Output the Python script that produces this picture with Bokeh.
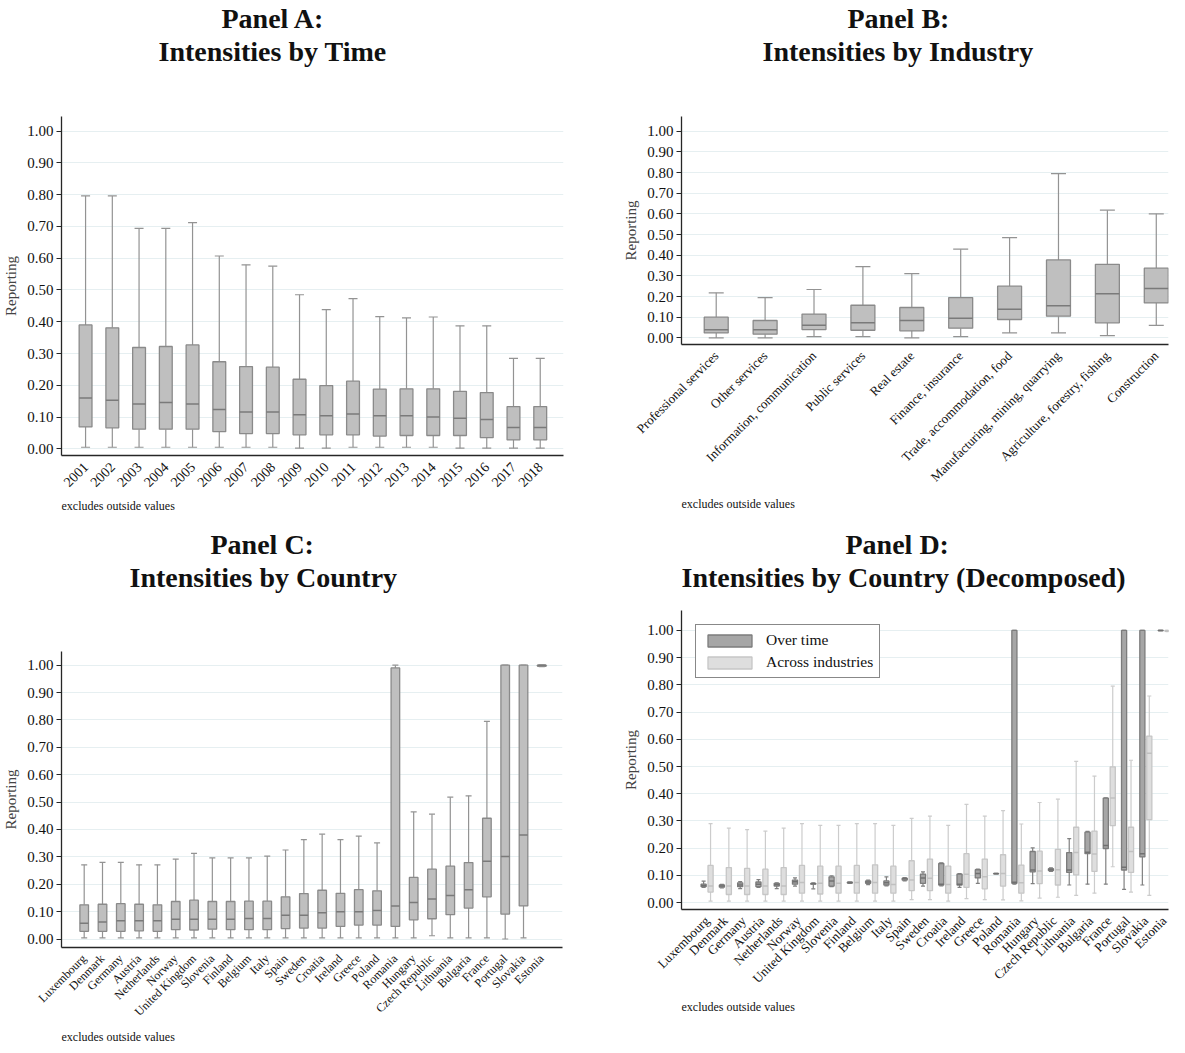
import math
import numpy as np
from bokeh.plotting import figure
from bokeh.models import (Range1d, FixedTicker, NumeralTickFormatter, Whisker, TeeHead,
                          ColumnDataSource, Title, Legend, LegendItem)
from bokeh.layouts import column, row
from bokeh.embed import file_html
from bokeh.resources import INLINE

FONT = "Liberation Serif"

# ---------------- Data ----------------
y_ticks = [0.0, 0.1, 0.2, 0.3, 0.4, 0.5, 0.6, 0.7, 0.8, 0.9, 1.0]

# Panel A: by time
years = ["2001", "2002", "2003", "2004", "2005", "2006", "2007", "2008", "2009",
         "2010", "2011", "2012", "2013", "2014", "2015", "2016", "2017", "2018"]
time_hi = [0.796, 0.796, 0.694, 0.694, 0.712, 0.607, 0.579, 0.575, 0.485,
           0.438, 0.473, 0.416, 0.412, 0.415, 0.387, 0.387, 0.285, 0.285]
time_q3 = [0.390, 0.381, 0.319, 0.322, 0.327, 0.274, 0.259, 0.257, 0.219,
           0.199, 0.213, 0.188, 0.189, 0.189, 0.181, 0.177, 0.133, 0.133]
time_med = [0.160, 0.153, 0.141, 0.146, 0.141, 0.124, 0.116, 0.116, 0.107,
            0.104, 0.110, 0.104, 0.104, 0.100, 0.096, 0.092, 0.067, 0.067]
time_q1 = [0.069, 0.066, 0.062, 0.062, 0.062, 0.054, 0.048, 0.048, 0.044,
           0.044, 0.044, 0.040, 0.042, 0.042, 0.042, 0.035, 0.028, 0.028]
time_lo = [0.005, 0.005, 0.005, 0.005, 0.005, 0.005, 0.005, 0.005, 0.002,
           0.002, 0.005, 0.005, 0.005, 0.005, 0.002, 0.002, 0.002, 0.002]

# Panel B: by industry
industries = ["Professional services", "Other services", "Information, communication",
              "Public services", "Real estate", "Finance, insurance",
              "Trade, accommodation, food", "Manufacturing, mining, quarrying",
              "Agriculture, forestry, fishing", "Construction"]
ind_hi = [0.218, 0.195, 0.234, 0.345, 0.311, 0.429, 0.485, 0.795, 0.618, 0.600]
ind_q3 = [0.100, 0.084, 0.115, 0.158, 0.147, 0.195, 0.250, 0.377, 0.356, 0.337]
ind_med = [0.039, 0.039, 0.061, 0.073, 0.084, 0.095, 0.139, 0.156, 0.213, 0.239]
ind_q1 = [0.024, 0.018, 0.040, 0.037, 0.034, 0.047, 0.089, 0.105, 0.073, 0.169]
ind_lo = [0.000, 0.000, 0.006, 0.006, 0.000, 0.006, 0.024, 0.024, 0.011, 0.061]

# Panel C: by country
countries = ["Luxembourg", "Denmark", "Germany", "Austria", "Netherlands", "Norway",
             "United Kingdom", "Slovenia", "Finland", "Belgium", "Italy", "Spain",
             "Sweden", "Croatia", "Ireland", "Greece", "Poland", "Romania", "Hungary",
             "Czech Republic", "Lithuania", "Bulgaria", "France", "Portugal",
             "Slovakia", "Estonia"]
cty_hi = [0.271, 0.280, 0.280, 0.271, 0.271, 0.292, 0.313, 0.296, 0.296, 0.296, 0.303,
          0.325, 0.363, 0.383, 0.363, 0.376, 0.351, 1.000, 0.464, 0.456, 0.518, 0.523,
          0.795, 1.000, 1.000, 1.000]
cty_q3 = [0.125, 0.127, 0.129, 0.127, 0.125, 0.137, 0.142, 0.137, 0.137, 0.138, 0.138,
          0.154, 0.166, 0.178, 0.167, 0.180, 0.176, 0.990, 0.225, 0.255, 0.266, 0.279,
          0.441, 1.000, 1.000, 1.000]
cty_med = [0.058, 0.062, 0.067, 0.067, 0.067, 0.072, 0.072, 0.072, 0.072, 0.075, 0.075,
           0.087, 0.087, 0.096, 0.100, 0.100, 0.104, 0.121, 0.133, 0.146, 0.159, 0.180,
           0.284, 0.301, 0.380, 1.000]
cty_q1 = [0.028, 0.028, 0.028, 0.030, 0.028, 0.034, 0.033, 0.036, 0.034, 0.034, 0.034,
          0.038, 0.040, 0.040, 0.046, 0.051, 0.051, 0.046, 0.070, 0.074, 0.089, 0.113,
          0.154, 0.091, 0.121, 0.996]
cty_lo = [0.004, 0.004, 0.004, 0.004, 0.004, 0.004, 0.004, 0.004, 0.004, 0.004, 0.004,
          0.004, 0.004, 0.004, 0.004, 0.004, 0.004, 0.004, 0.004, 0.012, 0.004, 0.004,
          0.004, 0.000, 0.004, 0.995]

# Panel D: over time (dark)
ot_hi = [0.079, 0.067, 0.077, 0.085, 0.073, 0.091, 0.073, 0.099, 0.076, 0.083, 0.095,
         0.092, 0.113, 0.146, 0.107, 0.123, 0.108, 1.000, 0.201, 0.128, 0.235, 0.262,
         0.385, 1.000, 1.000, 1.000]
ot_q3 = [0.068, 0.065, 0.073, 0.076, 0.071, 0.083, 0.071, 0.095, 0.075, 0.080, 0.080,
         0.090, 0.105, 0.144, 0.105, 0.121, 0.107, 1.000, 0.188, 0.125, 0.184, 0.259,
         0.384, 1.000, 1.000, 1.000]
ot_med = [0.063, 0.061, 0.065, 0.068, 0.066, 0.077, 0.070, 0.080, 0.074, 0.076, 0.073,
          0.088, 0.091, 0.068, 0.068, 0.107, 0.107, 0.075, 0.120, 0.121, 0.120, 0.185,
          0.210, 0.130, 0.180, 1.000]
ot_q1 = [0.059, 0.057, 0.059, 0.059, 0.061, 0.068, 0.068, 0.061, 0.072, 0.071, 0.065,
         0.083, 0.071, 0.065, 0.065, 0.091, 0.106, 0.071, 0.113, 0.118, 0.111, 0.180,
         0.199, 0.120, 0.168, 0.999]
ot_lo = [0.056, 0.054, 0.052, 0.056, 0.052, 0.061, 0.051, 0.059, 0.071, 0.066, 0.062,
         0.080, 0.061, 0.062, 0.056, 0.071, 0.106, 0.068, 0.070, 0.115, 0.065, 0.068,
         0.068, 0.049, 0.065, 0.999]

# Panel D: across industries (light)
ai_hi = [0.290, 0.274, 0.268, 0.263, 0.274, 0.290, 0.284, 0.284, 0.290, 0.290, 0.284,
         0.310, 0.318, 0.284, 0.361, 0.318, 0.338, 0.289, 0.368, 0.380, 0.519, 0.465,
         0.795, 0.523, 0.759, 1.000]
ai_q3 = [0.137, 0.129, 0.126, 0.123, 0.129, 0.137, 0.134, 0.134, 0.137, 0.139, 0.134,
         0.154, 0.160, 0.134, 0.180, 0.160, 0.176, 0.138, 0.189, 0.196, 0.277, 0.263,
         0.499, 0.277, 0.612, 1.000]
ai_med = [0.061, 0.061, 0.061, 0.061, 0.061, 0.074, 0.071, 0.071, 0.074, 0.074, 0.067,
          0.083, 0.090, 0.067, 0.104, 0.095, 0.107, 0.073, 0.116, 0.121, 0.184, 0.179,
          0.384, 0.188, 0.549, 0.998]
ai_q1 = [0.039, 0.030, 0.030, 0.030, 0.030, 0.035, 0.032, 0.035, 0.035, 0.035, 0.035,
         0.044, 0.044, 0.035, 0.056, 0.051, 0.061, 0.035, 0.070, 0.065, 0.102, 0.115,
         0.283, 0.111, 0.305, 0.996]
ai_lo = [0.006, 0.006, 0.006, 0.006, 0.006, 0.006, 0.006, 0.006, 0.006, 0.006, 0.006,
         0.011, 0.011, 0.006, 0.015, 0.011, 0.010, 0.007, 0.017, 0.020, 0.027, 0.035,
         0.132, 0.039, 0.027, 0.995]

NOTE = "excludes outside values"

# ---------------- Helpers ----------------
GRID = "#e6eff1"
AXIS = "#262626"
TITLE_SIZE = "28px"


def make_fig(line1, line2, cats, w, h, borders, xr, yr, off1, off2, spacer, xfont,
             note_standoff):
    left, right, bottom = borders
    p = figure(width=w, height=h, output_backend="svg", toolbar_location=None,
               x_range=Range1d(*xr), y_range=Range1d(*yr),
               min_border_left=left, min_border_right=right,
               min_border_top=0, min_border_bottom=bottom)
    p.outline_line_color = None
    p.background_fill_color = "white"
    p.border_fill_color = "white"
    xpos = list(range(1, len(cats) + 1))
    p.xaxis.ticker = FixedTicker(ticks=xpos)
    p.xaxis.major_label_overrides = {i: c for i, c in zip(xpos, cats)}
    p.xaxis.major_label_orientation = math.pi / 4
    p.xaxis.major_label_text_font = FONT
    p.xaxis.major_label_text_font_size = xfont
    p.xaxis.major_label_text_color = "#111111"
    p.xaxis.major_tick_line_color = None
    p.xaxis.minor_tick_line_color = None
    p.xaxis.axis_line_color = AXIS
    p.xaxis.axis_line_width = 1.3
    p.xaxis.major_label_standoff = 3

    p.yaxis.ticker = FixedTicker(ticks=y_ticks)
    p.yaxis.formatter = NumeralTickFormatter(format="0.00")
    p.yaxis.major_label_text_font = FONT
    p.yaxis.major_label_text_font_size = "15px"
    p.yaxis.major_label_text_color = "#111111"
    p.yaxis.major_tick_line_color = AXIS
    p.yaxis.major_tick_out = 5
    p.yaxis.major_tick_in = 0
    p.yaxis.minor_tick_line_color = None
    p.yaxis.axis_line_color = AXIS
    p.yaxis.axis_line_width = 1.3
    p.yaxis.axis_label = "Reporting"
    p.yaxis.axis_label_text_font = FONT
    p.yaxis.axis_label_text_font_size = "15px"
    p.yaxis.axis_label_text_font_style = "normal"
    p.yaxis.axis_label_standoff = 5
    p.yaxis.major_label_standoff = 3

    p.xgrid.grid_line_color = None
    p.ygrid.ticker = FixedTicker(ticks=y_ticks)
    p.ygrid.grid_line_color = GRID
    p.ygrid.grid_line_width = 1.2

    # spacer between titles and frame (innermost), then the two title lines
    p.add_layout(Title(text=" ", text_font_size="1px", standoff=spacer), "above")
    p.add_layout(Title(text=line2, align="left", text_font=FONT, text_font_size=TITLE_SIZE,
                       text_font_style="bold", offset=off2, standoff=0,
                       text_color="#111111"), "above")
    p.add_layout(Title(text=line1, align="left", text_font=FONT, text_font_size=TITLE_SIZE,
                       text_font_style="bold", offset=off1, standoff=0,
                       text_color="#111111"), "above")
    p.add_layout(Title(text=NOTE, align="left", text_font=FONT, text_font_size="12px",
                       text_font_style="normal", standoff=note_standoff,
                       text_color="#111111"), "below")
    return p, xpos


def add_boxes(p, x, hi, q3, med, q1, lo, bw, fill, line, whisk, medc, cap):
    x = np.asarray(x, dtype=float)
    src = ColumnDataSource(dict(x=x, hi=hi, q3=q3, med=med, q1=q1, lo=lo,
                                x0=x - bw / 2, x1=x + bw / 2))
    p.add_layout(Whisker(source=src, base="x", upper="hi", lower="q3", dimension="height",
                         line_color=whisk, line_width=1.2,
                         upper_head=TeeHead(size=cap, line_color=whisk, line_width=1.2),
                         lower_head=TeeHead(size=0, line_alpha=0)))
    p.add_layout(Whisker(source=src, base="x", upper="q1", lower="lo", dimension="height",
                         line_color=whisk, line_width=1.2,
                         lower_head=TeeHead(size=cap, line_color=whisk, line_width=1.2),
                         upper_head=TeeHead(size=0, line_alpha=0)))
    r = p.vbar(x="x", width=bw, top="q3", bottom="q1", source=src, fill_color=fill,
               line_color=line, line_width=1.3)
    p.segment(x0="x0", y0="med", x1="x1", y1="med", source=src, line_color=medc,
              line_width=1.5)
    return r


FILL = "#bfbfbf"
LINE = "#8a8a8a"
WHISK = "#939393"
MED = "#7a7a7a"
H1 = 526
H2 = 518

# Panel A
pa, xa = make_fig("Panel A:", "Intensities by Time", years, 592, H1, (60, 29, 71),
                  (0.10, 18.87), (-0.021, 1.046), 160, 97, 47, "14px", 4)
add_boxes(pa, xa, time_hi, time_q3, time_med, time_q1, time_lo, 0.48, FILL, LINE, WHISK, MED, 9)

# Panel B
pb, xb = make_fig("Panel B:", "Intensities by Industry", industries, 577, H1, (89, 1, 182),
                  (0.29, 10.25), (-0.032, 1.071), 166, 81, 47, "13px", 4)
add_boxes(pb, xb, ind_hi, ind_q3, ind_med, ind_q1, ind_lo, 0.49, FILL, LINE, WHISK, MED, 15)

# Panel C
pc, xc = make_fig("Panel C:", "Intensities by Country", countries, 592, H2, (59, 30, 97),
                  (-0.24, 27.13), (-0.031, 1.050), 149, 68, 55.5, "12px", 2)
add_boxes(pc, xc, cty_hi, cty_q3, cty_med, cty_q1, cty_lo, 0.47, FILL, LINE, WHISK, MED, 6)

# Panel D
pd_, xd = make_fig("Panel D:", "Intensities by Country (Decomposed)", countries, 577, H2,
                   (89, 1, 135), (-0.40, 26.24), (-0.025, 1.073), 164, 0, 15, "13px", 6)
xd_dark = [v - 0.19 for v in xd]
xd_light = [v + 0.19 for v in xd]
r_dark = add_boxes(pd_, xd_dark, ot_hi, ot_q3, ot_med, ot_q1, ot_lo, 0.28,
                   "#a6a6a6", "#7c7c7c", "#808080", "#707070", 4)
r_light = add_boxes(pd_, xd_light, ai_hi, ai_q3, ai_med, ai_q1, ai_lo, 0.28,
                    "#dedede", "#c6c6c6", "#cccccc", "#c0c0c0", 4)
legend = Legend(items=[LegendItem(label="Over time", renderers=[r_dark]),
                       LegendItem(label="Across industries", renderers=[r_light])],
                location="top_left", margin=14, padding=6, spacing=4,
                glyph_width=55, glyph_height=15, label_standoff=9,
                label_text_font=FONT, label_text_font_size="15.5px",
                label_text_color="#111111",
                border_line_color="#111111", border_line_width=1,
                background_fill_color="white", background_fill_alpha=1.0)
pd_.add_layout(legend)

layout = row(column(pa, column(pc)), column(column(pb), column(pd_)))
open("out.html", "w").write(file_html(layout, INLINE))
